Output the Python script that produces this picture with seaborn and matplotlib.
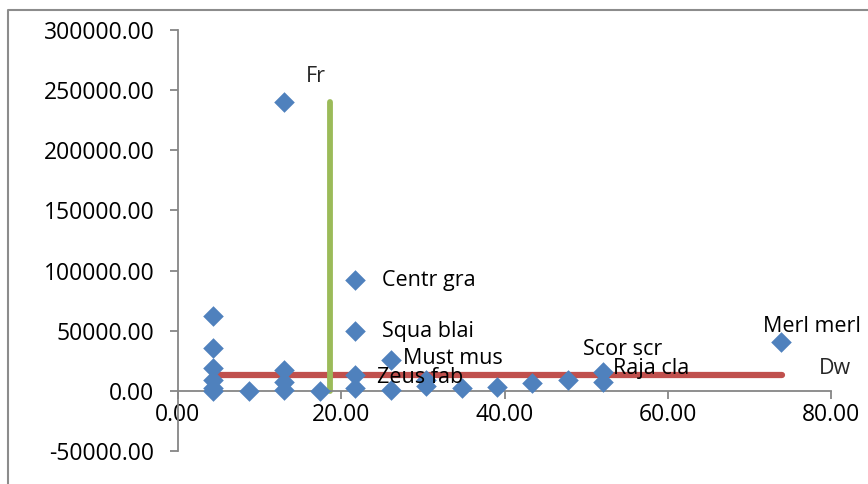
import matplotlib
matplotlib.use("Agg")
import matplotlib.pyplot as plt
import matplotlib.ticker as mticker
from matplotlib.lines import Line2D
import pandas as pd
import seaborn as sns

# scatter values
x_vals = [4.3, 4.3, 4.3, 4.3, 4.3, 4.3,
          8.7,
          13.0, 13.0, 13.0, 13.0,
          17.4,
          21.7, 21.7, 21.7, 21.7,
          26.1, 26.1,
          30.4, 30.4,
          34.8, 39.1, 43.4, 47.8,
          52.1, 52.1,
          73.9]
y_vals = [62500, 35800, 19000, 9000, 2500, 0,
          0,
          240000, 17000, 7500, 500,
          0,
          92000, 49500, 13000, 2500,
          26000, 1000,
          9000, 4000,
          2500, 3500, 6500, 9000,
          16000, 7500,
          41000]

# labelled points: name, x, y, text offset in pixels (dx, dy up)
label_names = ["Centr gra", "Squa blai", "Must mus", "Zeus fab",
               "Scor scr", "Raja cla", "Merl merl"]
label_x = [21.7, 21.7, 26.1, 21.7, 52.1, 52.1, 73.9]
label_y = [92000, 49500, 26000, 13000, 16000, 7500, 41000]
label_off = [(27, 0), (27, 0), (12, 1), (22, -2), (-20, 22), (10, 13), (-18, 15)]

# reference lines
dw_x = [4.3, 74.0]
dw_y = [13500, 13500]
fr_x = [18.6, 18.6]
fr_y = [0, 240000]

blue = "#4F81BD"
red = "#C0504D"
green = "#9BBB59"
grey = "#868686"

sns.set_theme(style="white")
plt.rcParams["font.family"] = ["Open Sans", "DejaVu Sans"]

W, H = 868, 484
fig = plt.figure(figsize=(W / 100, H / 100), dpi=100)
ax = fig.add_axes([178 / W, 1 - 451 / H, (831 - 178) / W, (451 - 30) / H])

df = pd.DataFrame({"x": x_vals, "y": y_vals})
sns.lineplot(x=dw_x, y=dw_y, color=red, linewidth=4.5, ax=ax, zorder=2)
sns.lineplot(x=fr_x, y=fr_y, color=green, linewidth=4.2, ax=ax, zorder=2,
             estimator=None, sort=False)
sns.scatterplot(data=df, x="x", y="y", marker="D", s=110, color=blue,
                edgecolor=blue, linewidth=0, ax=ax, zorder=3)

fs = 15.5
tick_fs = 16.5
px = 0.72  # pixels -> points
for name, x, y, (dx, dy) in zip(label_names, label_x, label_y, label_off):
    ax.annotate(name, (x, y), xytext=(dx * px, dy * px), textcoords="offset points",
                ha="left", va="center", fontsize=fs, color="black", zorder=4)
ax.annotate("Dw", (dw_x[1], dw_y[1]), xytext=(37 * px, 6 * px),
            textcoords="offset points", ha="left", va="center", fontsize=fs)
ax.annotate("Fr", (fr_x[1], fr_y[1]), xytext=(-24 * px, 26 * px),
            textcoords="offset points", ha="left", va="center", fontsize=fs)

ax.set_xlim(0, 80)
ax.set_ylim(-50000, 300000)
ax.xaxis.set_major_locator(mticker.MultipleLocator(20))
ax.yaxis.set_major_locator(mticker.MultipleLocator(50000))
ax.xaxis.set_major_formatter(mticker.FormatStrFormatter("%.2f"))
ax.yaxis.set_major_formatter(mticker.FormatStrFormatter("%.2f"))
ax.set_xlabel("")
ax.set_ylabel("")

for side in ["top", "right"]:
    ax.spines[side].set_visible(False)
ax.spines["bottom"].set_position(("data", 0))
for side in ["left", "bottom"]:
    ax.spines[side].set_color(grey)
    ax.spines[side].set_linewidth(1.3)
ax.tick_params(axis="both", which="major", direction="out", length=6,
               width=1.3, color=grey, labelsize=tick_fs, labelcolor="black",
               bottom=True, left=True)
ax.tick_params(axis="y", pad=11)
ax.tick_params(axis="x", pad=3)
ax.set_facecolor("white")

# outer chart border (only left and top edges fall inside the picture)
fig.add_artist(Line2D([8 / W, 8 / W, 1.0], [0.0, 1 - 10 / H, 1 - 10 / H],
                      transform=fig.transFigure, color="#8C8C8C", linewidth=1.5))

fig.savefig("out.png", dpi=100, facecolor="white")
